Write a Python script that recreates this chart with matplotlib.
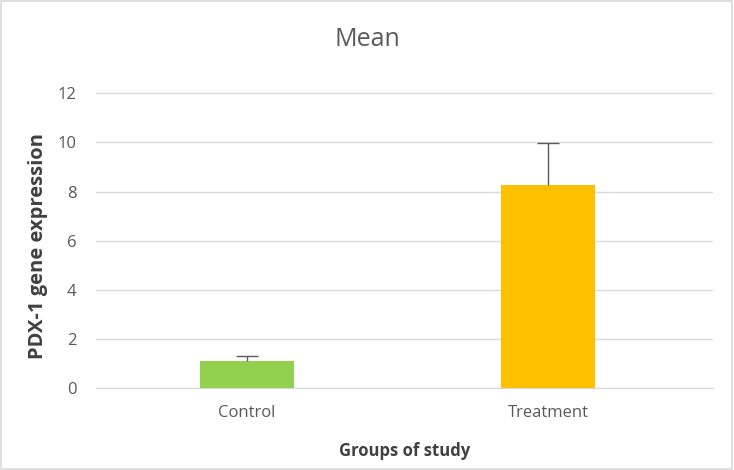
import matplotlib.pyplot as plt
from matplotlib.patches import Rectangle

groups = ["Control", "Treatment"]
means = [1.10, 8.25]
errors = [0.22, 1.72]
colors = ["#92D050", "#FFC000"]

plt.rcParams['font.family'] = ['Open Sans', 'DejaVu Sans']

fig = plt.figure(figsize=(7.34, 4.70), dpi=100)
ax = fig.add_axes([96 / 734, 1 - 388 / 470, (713 - 96) / 734, (388 - 81) / 470])

x = range(len(groups))
ax.bar(x, means, width=0.31, color=colors, zorder=2)
# only the upper half of the error bar is shown
eb = ax.errorbar(x, means, yerr=[[0, 0], errors], fmt='none', ecolor='#595959',
                 elinewidth=1, capsize=8, capthick=1, zorder=3)
eb[1][0].set_visible(False)

ax.set_xlim(-0.502, 1.548)
ax.set_ylim(0, 12.5)
ax.set_yticks(range(0, 13, 2))
ax.set_xticks(list(x))
ax.set_xticklabels(groups)
ax.yaxis.grid(True, color='#D9D9D9', linewidth=1, zorder=0)
for s in ax.spines.values():
    s.set_visible(False)
ax.spines['bottom'].set_visible(True)
ax.spines['bottom'].set_color('#D9D9D9')
ax.tick_params(length=0, colors='#595959', labelsize=12, pad=12)
ax.tick_params(axis='y', pad=14)

ax.set_ylabel("PDX-1 gene expression", fontsize=14.5, fontweight='bold', color='#404040')
ax.yaxis.set_label_coords(-0.078, 0.462)
ax.set_xlabel("Groups of study", fontsize=12, fontweight='bold', color='#404040', labelpad=15)
fig.text(0.5, 1 - 40 / 470, "Mean", ha='center', va='center', fontsize=18, color='#595959')

fig.patches.append(Rectangle((0.002, 0.003), 0.995, 0.994, transform=fig.transFigure,
                             fill=False, edgecolor='#D9D9D9', linewidth=1.2))

fig.savefig("out.png", dpi=100)
